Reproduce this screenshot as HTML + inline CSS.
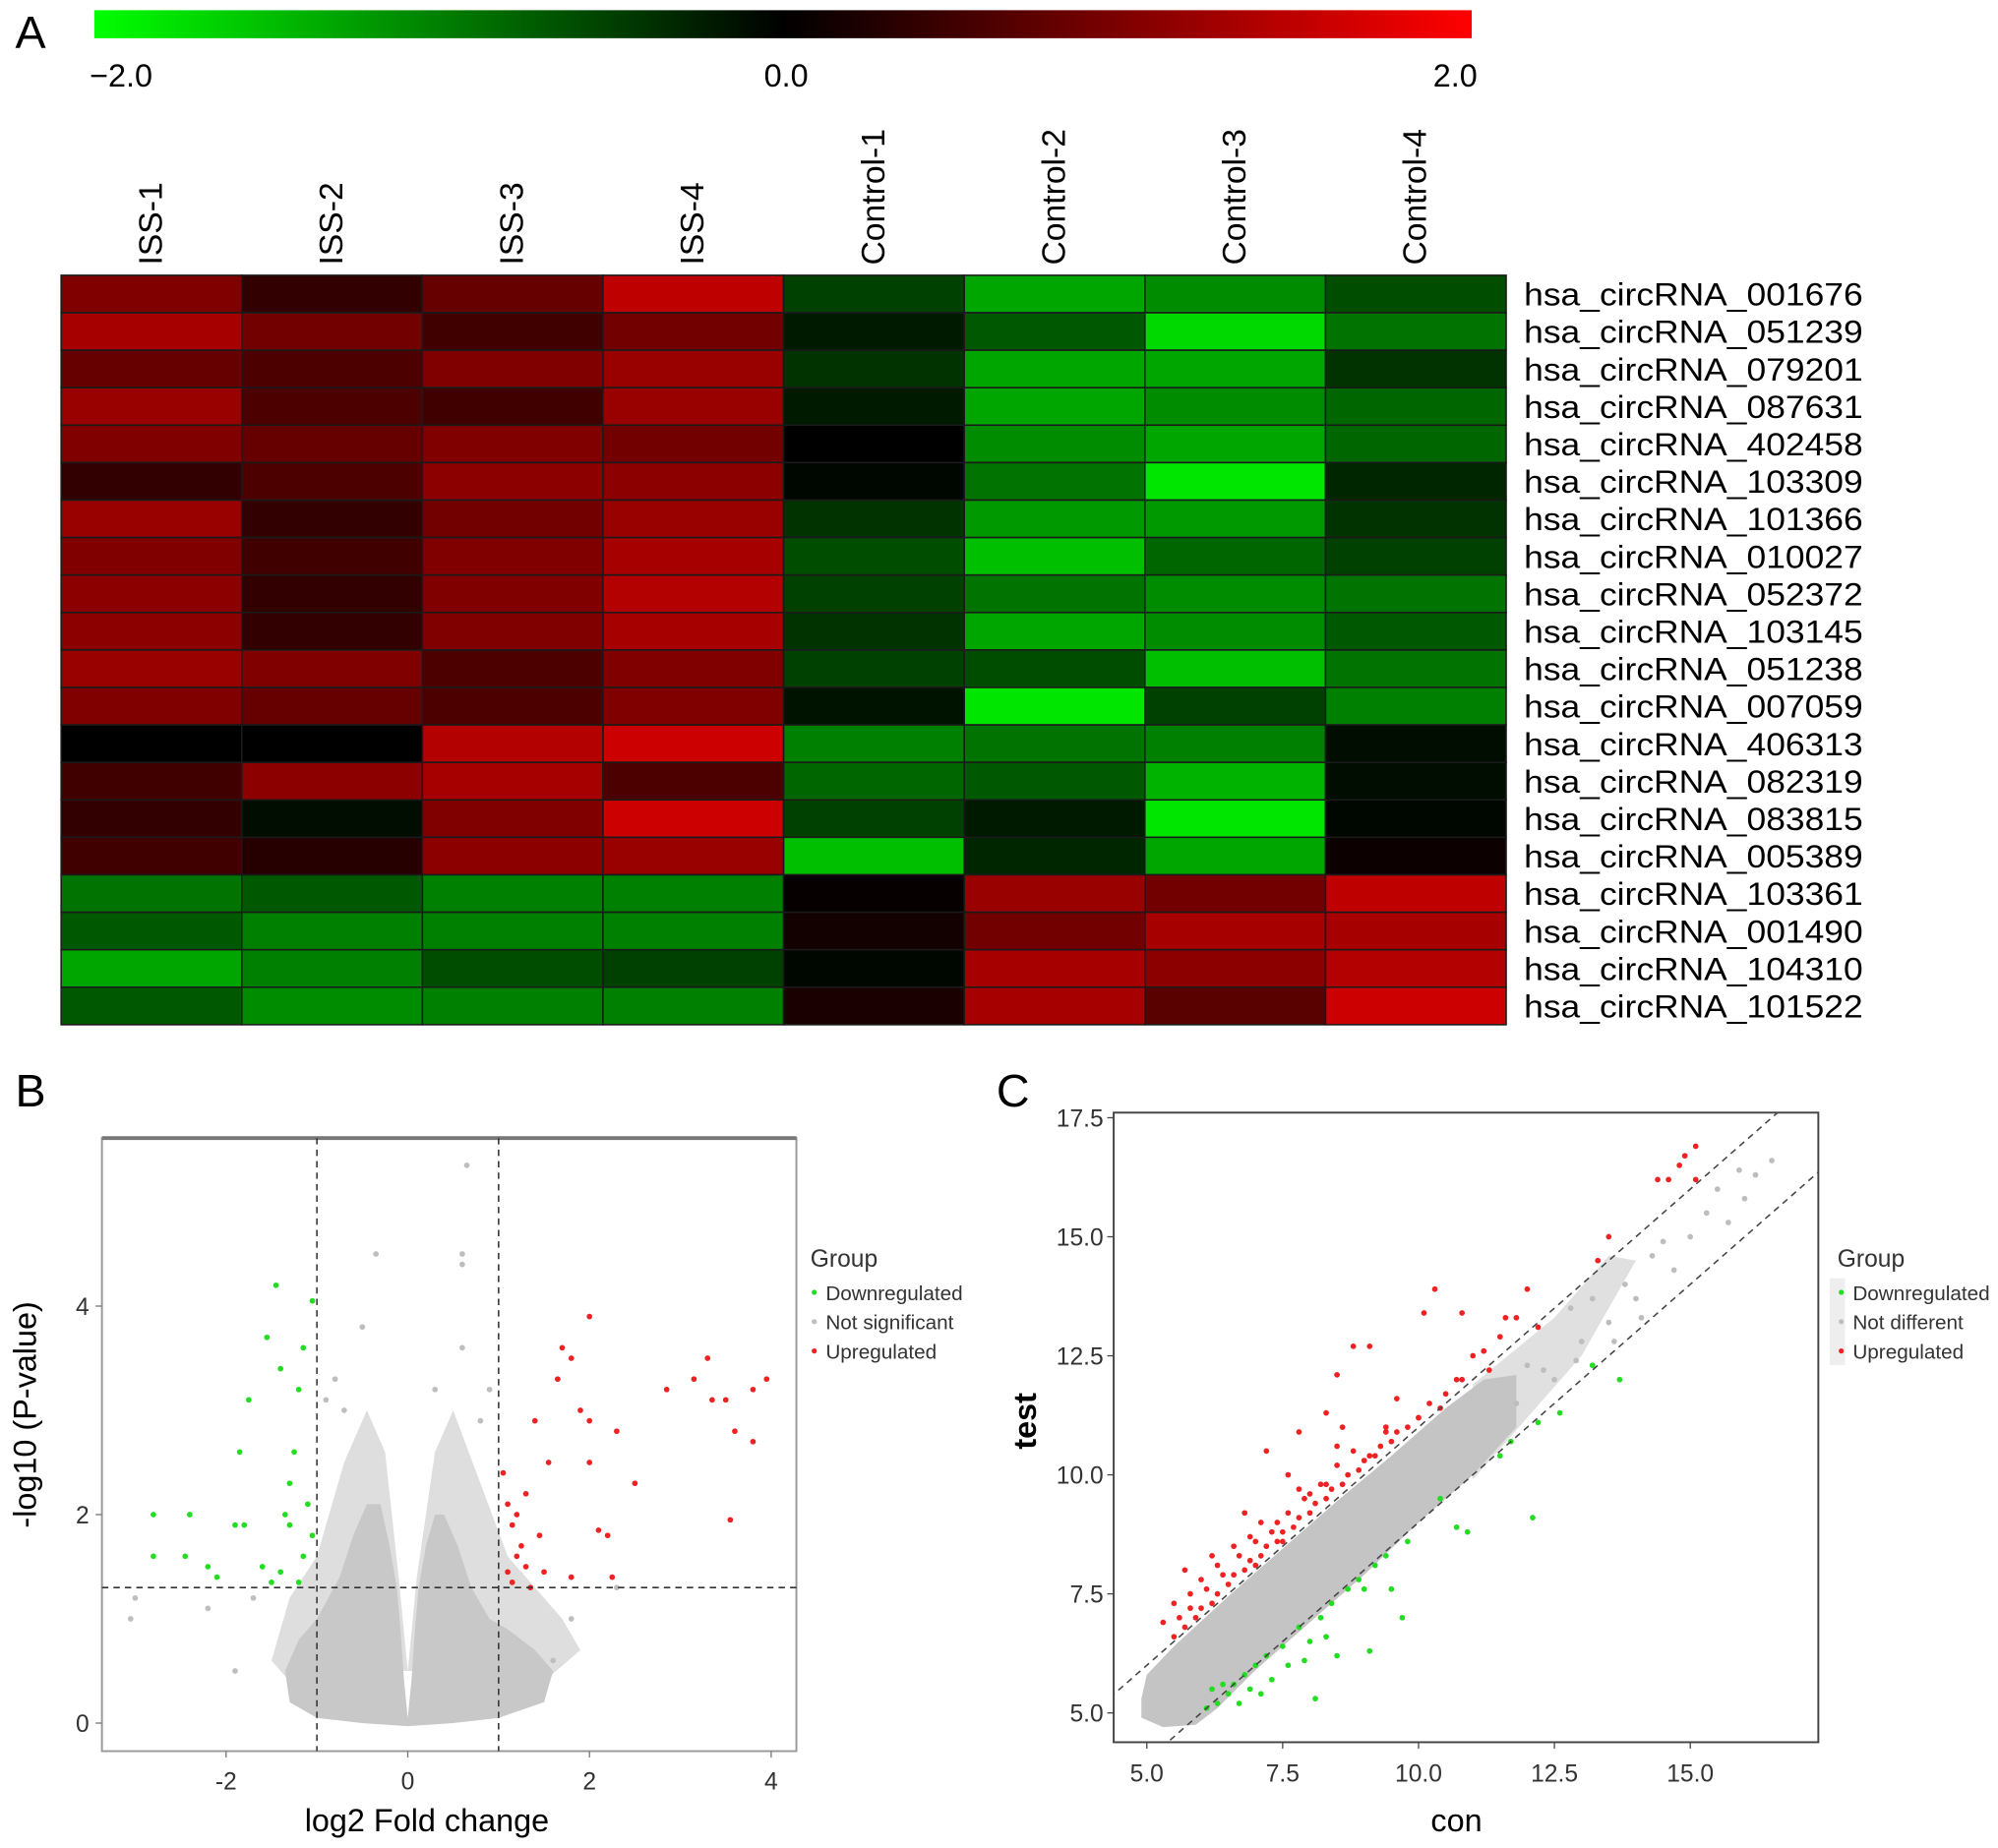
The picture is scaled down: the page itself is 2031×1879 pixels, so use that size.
<!DOCTYPE html>
<html><head><meta charset="utf-8"><style>
html,body{margin:0;padding:0;background:#fff;}
svg{display:block;font-family:"Liberation Sans",Arial,sans-serif;}
</style></head><body>
<svg id="fig" width="2031" height="1879" viewBox="0 0 1568 1450" preserveAspectRatio="none" xmlns="http://www.w3.org/2000/svg">
<defs><linearGradient id="cb" x1="0" x2="1" y1="0" y2="0"><stop offset="0" stop-color="#00ff00"/><stop offset="0.5" stop-color="#000"/><stop offset="1" stop-color="#ff0000"/></linearGradient></defs>
<text x="12" y="38" font-size="36">A</text>
<text x="12" y="868" font-size="36">B</text>
<text x="782" y="868" font-size="36">C</text>
<rect x="74" y="8" width="1081" height="22" fill="url(#cb)"/>
<text x="95" y="68" font-size="25" text-anchor="middle">−2.0</text>
<text x="617" y="68" font-size="25" text-anchor="middle">0.0</text>
<text x="1142" y="68" font-size="25" text-anchor="middle">2.0</text>
<g id="heat"></g>
<g id="volc"></g>
<g id="scat"></g>
</svg>
<script>
const NS="http://www.w3.org/2000/svg";
const svg=document.getElementById('fig');
function mk(tag,attrs,parent){const e=document.createElementNS(NS,tag);for(const k in attrs)e.setAttribute(k,attrs[k]);(parent||svg).appendChild(e);return e;}

// ===== Heatmap data =====
const samples=["ISS-1","ISS-2","ISS-3","ISS-4","Control-1","Control-2","Control-3","Control-4"];
const genes=["hsa_circRNA_001676","hsa_circRNA_051239","hsa_circRNA_079201","hsa_circRNA_087631","hsa_circRNA_402458","hsa_circRNA_103309","hsa_circRNA_101366","hsa_circRNA_010027","hsa_circRNA_052372","hsa_circRNA_103145","hsa_circRNA_051238","hsa_circRNA_007059","hsa_circRNA_406313","hsa_circRNA_082319","hsa_circRNA_083815","hsa_circRNA_005389","hsa_circRNA_103361","hsa_circRNA_001490","hsa_circRNA_104310","hsa_circRNA_101522"];
const heatValues=[
[1.0,0.4,0.8,1.5,-0.5,-1.3,-1.1,-0.6],
[1.3,0.9,0.5,0.9,-0.2,-0.7,-1.7,-0.9],
[0.8,0.6,1.0,1.2,-0.4,-1.3,-1.3,-0.4],
[1.2,0.6,0.5,1.2,-0.2,-1.3,-1.1,-0.8],
[1.0,0.8,1.0,0.9,0.0,-1.1,-1.3,-0.8],
[0.4,0.6,1.1,1.1,-0.05,-0.9,-1.8,-0.3],
[1.2,0.4,0.9,1.2,-0.4,-1.2,-1.2,-0.4],
[1.0,0.5,1.0,1.3,-0.6,-1.5,-0.8,-0.5],
[1.1,0.4,1.0,1.4,-0.5,-0.9,-1.1,-0.9],
[1.1,0.4,1.0,1.3,-0.4,-1.3,-1.1,-0.7],
[1.2,1.0,0.6,1.0,-0.5,-0.6,-1.5,-0.9],
[1.0,0.8,0.6,1.0,-0.15,-1.8,-0.5,-1.0],
[0.0,0.0,1.4,1.6,-1.0,-0.9,-1.0,-0.1],
[0.5,1.1,1.3,0.6,-0.8,-0.7,-1.4,-0.1],
[0.4,-0.1,1.0,1.6,-0.5,-0.2,-1.8,-0.05],
[0.5,0.3,1.1,1.2,-1.5,-0.3,-1.3,0.1],
[-0.9,-0.7,-1.0,-1.0,0.05,1.2,0.9,1.5],
[-0.7,-1.0,-1.0,-1.0,0.15,0.9,1.3,1.3],
[-1.3,-1.0,-0.6,-0.5,-0.05,1.3,1.1,1.4],
[-0.7,-1.1,-1.0,-1.0,0.2,1.3,0.7,1.6]];

// ===== Volcano data (log2FC, -log10 p) =====
const volcDownX=[-2.8,-2.8,-2.4,-2.45,-2.2,-1.9,-1.8,-1.85,-1.75,-1.55,-1.45,-1.4,-1.35,-1.3,-1.25,-1.2,-1.15,-1.1,-1.05,-1.05,-2.1,-1.6,-1.5,-1.2,-1.15,-1.3,-1.4];
const volcDownY=[2.0,1.6,2.0,1.6,1.5,1.9,1.9,2.6,3.1,3.7,4.2,3.4,2.0,2.3,2.6,3.2,3.6,2.1,1.8,4.05,1.4,1.5,1.35,1.35,1.6,1.9,1.45];
const volcUpX=[1.05,1.1,1.15,1.2,1.25,1.3,1.35,1.4,1.45,1.55,1.65,1.7,1.8,1.9,2.0,2.0,2.0,2.1,2.2,2.3,2.5,2.85,3.15,3.3,3.35,3.5,3.55,3.6,3.8,3.8,3.95,1.1,1.2,1.5,1.8,2.25,1.3,1.15];
const volcUpY=[2.4,2.1,1.9,2.0,1.7,1.5,1.3,2.9,1.8,2.5,3.3,3.6,3.5,3.0,3.9,2.9,2.5,1.85,1.8,2.8,2.3,3.2,3.3,3.5,3.1,3.1,1.95,2.8,2.7,3.2,3.3,1.45,1.6,1.45,1.4,1.4,2.2,1.35];
const volcGrayX=[0.65,-0.35,0.6,0.6,-0.5,-0.8,0.6,0.3,-3.0,-3.05,2.3,-2.2,-1.9,1.6,1.8,-1.7,-0.9,0.9,-0.7,0.8];
const volcGrayY=[5.35,4.5,4.5,4.4,3.8,3.3,3.6,3.2,1.2,1.0,1.3,1.1,0.5,0.6,1.0,1.2,3.1,3.2,3.0,2.9];
const volcDenseX=[0,0.04,0.08,0.12,0.2,0.3,0.4,0.55,0.7,0.9,1.1,1.4,1.6,1.5,1.0,0.5,0,-0.5,-1.0,-1.3,-1.35,-1.2,-1.0,-0.75,-0.6,-0.45,-0.3,-0.2,-0.12,-0.08,-0.04,0];
const volcDenseY=[0.05,0.4,0.9,1.3,1.7,2.0,2.0,1.7,1.3,1.0,0.9,0.7,0.5,0.2,0.05,0.0,-0.03,0.0,0.05,0.2,0.5,0.8,1.0,1.4,1.8,2.1,2.1,1.7,1.3,0.9,0.4,0.05];
const volcSparseX=[-0.1,-0.25,-0.45,-0.7,-1.0,-1.3,-1.5,-1.2,-0.5,0.5,1.5,1.9,1.7,1.1,0.8,0.5,0.3,0.1,0];
const volcSparseY=[1.4,2.6,3.0,2.5,1.6,1.2,0.6,0.3,0.5,0.5,0.4,0.7,1.0,1.6,2.3,3.0,2.6,1.4,0.5];
const volcXTicks=[-2,0,2,4];
const volcYTicks=[0,2,4];

// ===== Scatter data (con, test) =====
const scatUpX=[15.1,14.9,14.8,14.4,14.6,15.1,13.5,13.3,12.0,10.3,10.1,10.8,11.6,11.8,12.2,8.8,9.1,8.5,11.0,10.8,11.3,9.6,10.4,8.3,7.8,8.6,9.4,10.0,8.5,9.1,7.2,7.6,8.3,6.8,7.1,6.6,6.2,5.7,6.0,5.5,5.8,5.3,5.6,5.5,5.7,5.9,6.0,6.2,6.3,6.5,6.6,6.8,6.9,7.1,7.2,7.4,7.5,7.7,7.8,8.0,8.1,8.3,8.4,8.6,8.7,8.9,9.0,9.2,9.3,9.5,9.6,9.8,10.0,10.2,10.5,6.4,6.7,7.0,7.3,7.6,7.9,8.2,8.5,6.1,5.8,7.0,7.5,8.0,6.3,6.9,7.4,7.8,8.8,9.4,10.7,11.2,11.5];
const scatUpY=[16.9,16.7,16.5,16.2,16.2,16.2,15.0,14.5,13.9,13.9,13.4,13.4,13.3,13.3,13.1,12.7,12.7,12.1,12.5,12.0,12.2,11.6,11.4,11.3,10.9,11.0,10.9,11.2,10.6,10.4,10.5,10.0,9.8,9.2,9.0,8.5,8.3,8.0,7.8,7.3,7.5,6.9,7.0,6.6,6.8,7.0,7.2,7.3,7.5,7.7,7.9,8.0,8.2,8.3,8.5,8.6,8.8,8.9,9.1,9.2,9.4,9.5,9.7,9.8,10.0,10.1,10.3,10.4,10.6,10.7,10.9,11.0,11.2,11.5,11.7,7.9,8.3,8.6,8.8,9.2,9.5,9.8,10.2,7.6,7.2,8.1,8.6,9.6,8.1,8.7,9.0,9.7,10.5,11.0,12.0,12.6,12.9];
const scatDownX=[6.1,6.3,6.5,6.6,6.8,6.9,7.0,7.2,7.3,7.5,7.6,7.8,8.0,8.1,8.2,8.4,8.5,8.7,8.9,9.0,9.2,9.1,9.5,9.4,9.7,9.8,10.4,10.7,10.9,11.5,11.7,12.1,12.2,12.6,13.2,13.7,6.4,6.7,7.1,7.9,8.3,6.2];
const scatDownY=[5.1,5.2,5.4,5.6,5.8,5.5,6.0,6.2,5.7,6.4,6.0,6.8,6.5,5.3,7.0,7.3,6.2,7.6,7.8,7.6,8.1,6.3,7.6,8.3,7.0,8.6,9.5,8.9,8.8,10.4,10.7,9.1,11.1,11.3,12.3,12.0,5.6,5.2,5.4,6.1,6.6,5.5];
const scatGrayX=[12.5,13.0,13.5,14.0,14.3,14.7,15.0,15.3,15.7,16.2,16.5,13.8,12.8,12.3,14.5,15.5,13.2,11.8,12.0,14.1,16.0,15.9,13.6,12.9];
const scatGrayY=[12.0,12.8,13.2,13.7,14.6,14.3,15.0,15.5,15.3,16.3,16.6,14.0,13.5,12.2,14.9,16.0,13.7,11.5,12.3,13.3,15.8,16.4,12.8,12.4];
const scatDenseX=[4.9,5.0,5.5,6.5,7.5,8.5,9.5,10.5,11.2,11.8,11.8,11.0,10.0,9.0,8.0,7.0,6.3,5.9,5.3,4.9];
const scatDenseY=[5.3,5.8,6.4,7.45,8.45,9.45,10.4,11.4,12.0,12.1,11.0,10.0,9.0,7.9,6.9,5.9,5.1,4.75,4.7,4.9];
const scatSparseX=[11.0,12.5,13.5,14.0,13.0,12.0,11.0];
const scatSparseY=[11.9,13.3,14.6,14.5,12.5,11.2,9.9];
const scatXTicks=[5.0,7.5,10.0,12.5,15.0];
const scatYTicks=[5.0,7.5,10.0,12.5,15.0,17.5];

// ===== Heatmap render =====
const H=document.getElementById('heat');
const hx0=48,hx1=1182,hy0=216,hy1=804;
const cw=(hx1-hx0)/samples.length, rh=(hy1-hy0)/genes.length;
function heatColor(v){const t=Math.max(-1,Math.min(1,v/2));return t>=0?`rgb(${Math.round(255*t)},0,0)`:`rgb(0,${Math.round(-255*t)},0)`;}
samples.forEach((s,j)=>{
  const cx=hx0+cw*(j+0.5)+8;
  const t=mk('text',{x:0,y:0,'font-size':26,transform:`translate(${cx},208) rotate(-90)`},H);t.textContent=s;
  
  
});
genes.forEach((g,i)=>{
  heatValues[i].forEach((v,j)=>{
    const r=mk('rect',{x:hx0+j*cw,y:hy0+i*rh,width:cw,height:rh,fill:heatColor(v),stroke:'#1a1a1a','stroke-width':1.2},H);
    
    
  });
  const t=mk('text',{x:1196,y:hy0+i*rh+rh/2+9,'font-size':25,textLength:266,lengthAdjust:'spacingAndGlyphs'},H);t.textContent=g;
  
  
});

// ===== Volcano =====
const V=document.getElementById('volc');
const vx=x=>320+x*71.3, vy=y=>1352-y*81.8;
const bx0=80,bx1=625,by0=893,by1=1374;
let fr=mk('rect',{x:bx0,y:by0,width:bx1-bx0,height:by1-by0,fill:'none',stroke:'#999','stroke-width':1.5},V);

mk('line',{x1:bx0,x2:bx1,y1:by0,y2:by0,stroke:'#777','stroke-width':3},V);
function poly(xs,ys,fx,fy,fill,op,parent,name){const p=mk('polygon',{points:xs.map((x,i)=>fx(x)+','+fy(ys[i])).join(' '),fill:fill,opacity:op},parent);}
poly(volcSparseX,volcSparseY,vx,vy,'#dedede',1,V,'volcano-sparse-cloud');
poly(volcDenseX,volcDenseY,vx,vy,'#c8c8c8',1,V,'volcano-dense-cloud');
function dots(xs,ys,fx,fy,col,parent,name){xs.forEach((x,i)=>{const c=mk('circle',{cx:fx(x),cy:fy(ys[i]),r:2.2,fill:col},parent);});}
dots(volcGrayX,volcGrayY,vx,vy,'#bebebe',V,'volcano-point-not-significant');
dots(volcDownX,volcDownY,vx,vy,'#22dd22',V,'volcano-point-downregulated');
dots(volcUpX,volcUpY,vx,vy,'#ee2222',V,'volcano-point-upregulated');
[-1,1].forEach(x=>mk('line',{x1:vx(x),x2:vx(x),y1:by0,y2:by1,stroke:'#333','stroke-dasharray':'5,4','stroke-width':1.2},V));
mk('line',{x1:bx0,x2:bx1,y1:vy(1.3),y2:vy(1.3),stroke:'#333','stroke-dasharray':'5,4','stroke-width':1.2},V);
volcXTicks.forEach(t=>{mk('line',{x1:vx(t),x2:vx(t),y1:by1,y2:by1+5,stroke:'#777'},V);const e=mk('text',{x:vx(t),y:1404,'font-size':19,'text-anchor':'middle',fill:'#333'},V);e.textContent=t;});
volcYTicks.forEach(t=>{mk('line',{x1:bx0-5,x2:bx0,y1:vy(t),y2:vy(t),stroke:'#777'},V);const e=mk('text',{x:70,y:vy(t)+7,'font-size':19,'text-anchor':'end',fill:'#333'},V);e.textContent=t;});
let e=mk('text',{x:335,y:1437,'font-size':25,'text-anchor':'middle'},V);e.textContent='log2 Fold change';
e=mk('text',{x:0,y:0,'font-size':25,'text-anchor':'middle',transform:'translate(28,1110) rotate(-90)'},V);e.textContent='-log10 (P-value)';
function legend(x,labels,parent,prefix){
  const g=mk('text',{x:x-4,y:994,'font-size':19,fill:'#333'},parent);g.textContent='Group';
  const cols=['#22dd22','#bebebe','#ee2222'];
  labels.forEach((l,i)=>{const y=1014+i*23;mk('circle',{cx:x-1,cy:y,r:2,fill:cols[i]},parent);const t=mk('text',{x:x+8,y:y+6,'font-size':16,fill:'#333'},parent);t.textContent=l;});
}
legend(640,['Downregulated','Not significant','Upregulated'],V,'volcano');

// ===== Scatter =====
const S=document.getElementById('scat');
const sx=x=>900+(x-5)*42.65, sy=y=>1344-(y-5)*37.36;
const cx0=874,cx1=1427,cy0=873,cy1=1367;
mk('rect',{x:1436,y:1003,width:12,height:68,fill:'#eeeeee'},S);
fr=mk('rect',{x:cx0,y:cy0,width:cx1-cx0,height:cy1-cy0,fill:'none',stroke:'#444','stroke-width':1.5},S);

mk('clipPath',{id:'cc'},S);mk('rect',{x:cx0,y:cy0,width:cx1-cx0,height:cy1-cy0},document.getElementById('cc'));
const SG=mk('g',{'clip-path':'url(#cc)'},S);
poly(scatSparseX,scatSparseY,sx,sy,'#e0e0e0',1,SG,'scatter-sparse-cloud');
poly(scatDenseX,scatDenseY,sx,sy,'#c4c4c4',1,SG,'scatter-dense-cloud');
dots(scatGrayX,scatGrayY,sx,sy,'#bdbdbd',SG,'scatter-point-not-different');
dots(scatDownX,scatDownY,sx,sy,'#22dd22',SG,'scatter-point-downregulated');
dots(scatUpX,scatUpY,sx,sy,'#ee2222',SG,'scatter-point-upregulated');
[1,-1].forEach(o=>mk('line',{x1:sx(4),y1:sy(4+o),x2:sx(18),y2:sy(18+o),stroke:'#444','stroke-dasharray':'5,4','stroke-width':1.2},SG));
scatXTicks.forEach(t=>{mk('line',{x1:sx(t),x2:sx(t),y1:cy1,y2:cy1+5,stroke:'#444'},S);const e=mk('text',{x:sx(t),y:1398,'font-size':19,'text-anchor':'middle',fill:'#333'},S);e.textContent=t.toFixed(1);});
scatYTicks.forEach(t=>{mk('line',{x1:cx0-5,x2:cx0,y1:sy(t),y2:sy(t),stroke:'#444'},S);const e=mk('text',{x:866,y:sy(t)+7,'font-size':19,'text-anchor':'end',fill:'#333'},S);e.textContent=t.toFixed(1);});
e=mk('text',{x:1143,y:1437,'font-size':25,'text-anchor':'middle'},S);e.textContent='con';
e=mk('text',{x:0,y:0,'font-size':25,'text-anchor':'middle','font-weight':'bold',transform:'translate(813,1115) rotate(-90)'},S);e.textContent='test';
legend(1446,['Downregulated','Not different','Upregulated'],S,'scatter');
</script>
</body></html>
